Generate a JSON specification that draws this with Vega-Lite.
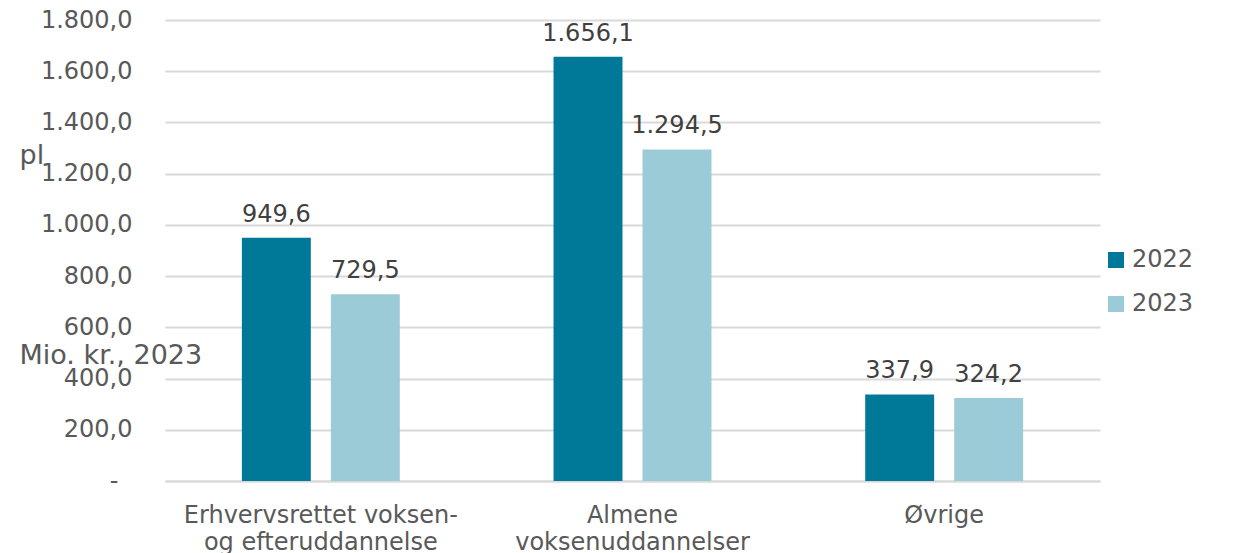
{
  "$schema": "https://vega.github.io/schema/vega-lite/v6.json",
  "width": 935,
  "height": 461,
  "autosize": {"type": "none"},
  "padding": {"left": 165, "top": 20, "right": 146, "bottom": 72},
  "config": {
    "locale": {"number": {"decimal": ",", "thousands": ".", "grouping": [3], "currency": ["", " kr."]}},
    "font": "DejaVu Sans",
    "view": {"stroke": null},
    "axis": {"labelFont": "DejaVu Sans", "titleFont": "DejaVu Sans", "labelColor": "#595959", "titleColor": "#595959", "labelFontSize": 24, "titleFontSize": 27}
  },
  "data": {
    "values": [
      {"kategori": "Erhvervsrettet voksen- og efteruddannelse", "aar": "2022", "vaerdi": 949.6},
      {"kategori": "Erhvervsrettet voksen- og efteruddannelse", "aar": "2023", "vaerdi": 729.5},
      {"kategori": "Almene voksenuddannelser", "aar": "2022", "vaerdi": 1656.1},
      {"kategori": "Almene voksenuddannelser", "aar": "2023", "vaerdi": 1294.5},
      {"kategori": "Øvrige", "aar": "2022", "vaerdi": 337.9},
      {"kategori": "Øvrige", "aar": "2023", "vaerdi": 324.2}
    ]
  },
  "encoding": {
    "x": {
      "field": "kategori", "type": "nominal", "sort": null,
      "scale": {"paddingInner": 0, "paddingOuter": 0},
      "axis": {
        "title": null, "labelAngle": 0, "ticks": false, "labelPadding": 22, "labelLimit": 500,
        "domainColor": "#d9d9d9", "domainWidth": 2, "labelLineHeight": 27, "labelBaseline": "top",
        "labelExpr": "datum.label == 'Erhvervsrettet voksen- og efteruddannelse' ? ['Erhvervsrettet voksen-', 'og efteruddannelse'] : datum.label == 'Almene voksenuddannelser' ? ['Almene', 'voksenuddannelser'] : datum.label"
      }
    },
    "xOffset": {"field": "aar", "type": "nominal", "scale": {"paddingInner": 0.225, "paddingOuter": 0.864}},
    "y": {
      "field": "vaerdi", "type": "quantitative",
      "scale": {"domain": [0, 1800], "nice": false},
      "axis": {
        "values": [0, 200, 400, 600, 800, 1000, 1200, 1400, 1600, 1800],
        "domain": false, "ticks": false,
        "labelPadding": {"condition": {"test": "datum.value == 0", "value": 47}, "value": 33},
        "gridColor": "#d9d9d9", "gridWidth": 2,
        "labelExpr": "datum.value == 0 ? '-' : format(datum.value, ',.1f')",
        "title": ["pl", "Mio. kr., 2023"], "titleAngle": 0, "titleAlign": "left", "titleBaseline": "middle",
        "titleFontWeight": "normal", "titleLineHeight": 200, "titleX": -146, "titleY": 135
      }
    }
  },
  "layer": [
    {
      "mark": {"type": "bar"},
      "encoding": {
        "color": {
          "field": "aar", "type": "nominal",
          "scale": {"domain": ["2022", "2023"], "range": ["#007898", "#9ccbd8"]},
          "legend": {
            "title": null, "orient": "none", "legendX": 939, "legendY": 228,
            "symbolType": "square", "symbolSize": 256, "symbolStrokeWidth": 0,
            "labelFont": "DejaVu Sans", "labelFontSize": 24, "labelColor": "#595959",
            "labelOffset": 4, "rowPadding": 20
          }
        }
      }
    },
    {
      "mark": {"type": "text", "baseline": "alphabetic", "dy": -16, "fontSize": 24, "font": "DejaVu Sans", "color": "#404040"},
      "encoding": {
        "text": {"field": "vaerdi", "type": "quantitative", "format": ",.1f"}
      }
    }
  ]
}
